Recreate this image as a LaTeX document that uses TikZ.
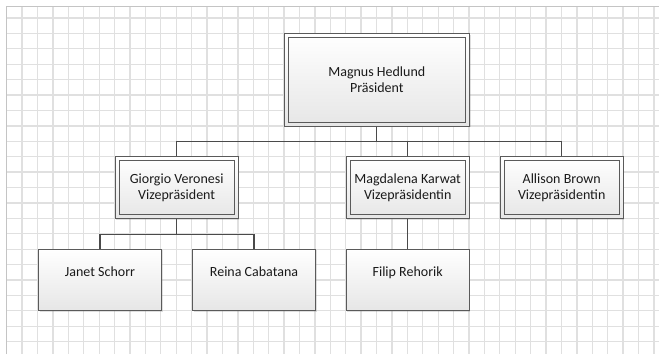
\documentclass[tikz,border=0pt]{standalone}
\usepackage{fontspec}
\setmainfont{Carlito}
\usepackage{tikz}
\usetikzlibrary{positioning, shadows}
\definecolor{gridline}{HTML}{E0E0E0}
\definecolor{pageedge}{HTML}{C4C4C4}
\definecolor{frame}{HTML}{5A5A5A}
\definecolor{ink}{HTML}{1A1A1A}
\definecolor{wire}{HTML}{4A4A4A}
\definecolor{fillbot}{HTML}{E6E6E6}
\tikzset{
  person/.style  = {rectangle, draw=frame, line width=1.1pt,
                    top color=white, bottom color=fillbot,
                    drop shadow={opacity=0.25, shadow xshift=1.2pt, shadow yshift=-1.2pt},
                    align=center, text=ink, font=\fontsize{14}{16}\selectfont,
                    minimum width=123pt, minimum height=61.5pt, inner sep=0pt},
  head/.style    = {person, line width=1pt,
                    path picture={\draw[frame, line width=1pt]
                      ([shift={(4pt,4pt)}]path picture bounding box.south west) rectangle
                      ([shift={(-4pt,-4pt)}]path picture bounding box.north east);}},
  conn/.style    = {draw=wire, line width=1.1pt},
}
\begin{document}
\begin{tikzpicture}[x=1pt, y=-1pt]
  \useasboundingbox (0,0) rectangle (659,354);
  \fill[white] (0,0) rectangle (659,354);

  % page grid
  \foreach \i in {1,...,42}
    \draw[gridline, line width=1.3pt] (6.7+15.41*\i,6.7) -- (6.7+15.41*\i,354);
  \foreach \j in {0,...,21}
    \draw[gridline, line width=1.3pt] (6.7,18+15.41*\j) -- (659,18+15.41*\j);
  \draw[pageedge, line width=1.3pt] (6.7,354) -- (6.7,6.7) -- (659,6.7);

  \node[head, minimum width=185pt, minimum height=92.7pt] (pres) at (376.8,79.7)
       {Magnus Hedlund\\Präsident};

  \node[head] (vp1) at (176.7,187.7) {Giorgio Veronesi\\Vizepräsident};
  \node[head] (vp2) at (407.7,187.7) {Magdalena Karwat\\Vizepräsidentin};
  \node[head] (vp3) at (561.7,187.7) {Allison Brown\\Vizepräsidentin};

  \node[person] (ma1) at (100,279.8) {Janet Schorr\\\mbox{}};
  \node[person] (ma2) at (254,279.8) {Reina Cabatana\\\mbox{}};
  \node[person] (ma3) at (407.7,279.8) {Filip Rehorik\\\mbox{}};

  \draw[conn] (pres.south) -- ++(0,15.3) -| (vp1.north);
  \draw[conn] (pres.south) -- ++(0,15.3) -| (vp2.north);
  \draw[conn] (pres.south) -- ++(0,15.3) -| (vp3.north);

  \draw[conn] (vp1.south) -- ++(0,15.6) -| (ma1.north);
  \draw[conn] (vp1.south) -- ++(0,15.6) -| (ma2.north);
  \draw[conn] (vp2.south) -- (ma3.north);

\end{tikzpicture}
\end{document}
